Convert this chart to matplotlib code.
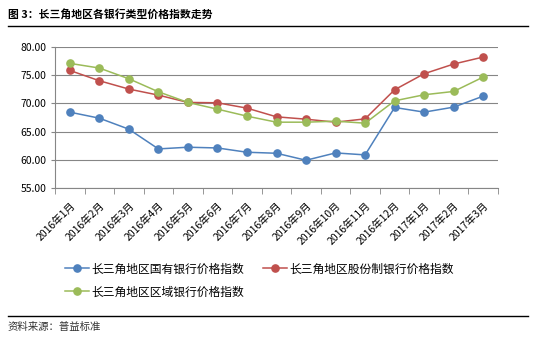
import numpy as np
import matplotlib
matplotlib.use("Agg")
import matplotlib.pyplot as plt
from matplotlib.lines import Line2D

plt.rcParams['font.family'] = ['Noto Sans CJK SC', 'DejaVu Sans']

months = ['2016年1月', '2016年2月', '2016年3月', '2016年4月', '2016年5月',
          '2016年6月', '2016年7月', '2016年8月', '2016年9月', '2016年10月',
          '2016年11月', '2016年12月', '2017年1月', '2017年2月', '2017年3月']

state_owned = [68.45, 67.38, 65.43, 61.93, 62.23, 62.10, 61.34, 61.16, 59.92,
               61.22, 60.87, 69.28, 68.45, 69.34, 71.29]
joint_stock = [75.85, 74.02, 72.54, 71.47, 70.17, 70.11, 69.16, 67.62, 67.20,
               66.67, 67.26, 72.42, 75.26, 76.98, 78.22]
regional = [77.10, 76.27, 74.37, 72.06, 70.17, 68.98, 67.74, 66.67, 66.67,
            66.85, 66.49, 70.46, 71.53, 72.12, 74.67]

names = ['长三角地区国有银行价格指数', '长三角地区股份制银行价格指数', '长三角地区区域银行价格指数']
colors = ['#4F81BD', '#C0504D', '#9BBB59']
yticks = [55, 60, 65, 70, 75, 80]

fig = plt.figure(figsize=(5.34, 3.42), dpi=100)
W, H = 534, 342
ax = fig.add_axes([55 / W, 1 - 188 / H, (498 - 55) / W, (188 - 47) / H])

x = np.arange(len(months))
series = [state_owned, joint_stock, regional]
for vals, c in zip(series, colors):
    ax.plot(x, vals, color=c, lw=1.1, marker='o', ms=5.2, zorder=3)

ax.set_xlim(-0.5, len(months) - 0.5)
ax.set_ylim(55, 80)
ax.set_yticks(yticks)
ax.set_yticklabels(['%.2f' % v for v in yticks], fontsize=7.5)
ax.grid(axis='y', color='#868686', lw=0.8)
ax.set_axisbelow(True)

ax.set_xticks(x)
ax.set_xticklabels(months, rotation=45, ha='right', rotation_mode='anchor', fontsize=7.5)
ax.set_xticks(np.arange(-0.5, len(months)), minor=True)
ax.tick_params(axis='x', which='major', length=0, pad=9)
ax.tick_params(axis='x', which='minor', length=4, color='#868686')
ax.tick_params(axis='y', length=3, color='#868686', pad=3)
for s in ['top', 'right']:
    ax.spines[s].set_visible(False)
for s in ['left', 'bottom']:
    ax.spines[s].set_color('#868686')
    ax.spines[s].set_linewidth(0.8)

# legend: two columns, blue/red on the first row, green below
handles = [Line2D([], [], color=c, lw=1.1, marker='o', ms=5.2) for c in colors]
order = [0, 2, 1]
fig.legend([handles[i] for i in order], [names[i] for i in order], ncol=2,
           loc='upper left', bbox_to_anchor=(59 / W, 1 - 256.6 / H), frameon=False,
           fontsize=8.5, handlelength=2.0, columnspacing=1.6, handletextpad=0.25,
           labelspacing=0.84, borderpad=0)

# title and footer
fig.text(8 / W, 1 - 15 / H, '图 3：长三角地区各银行类型价格指数走势', fontsize=7.8,
         fontweight='bold', va='center', ha='left')
fig.add_artist(Line2D([8 / W, 528 / W], [1 - 26 / H] * 2, color='black', lw=1))
fig.add_artist(Line2D([8 / W, 528 / W], [1 - 316 / H] * 2, color='black', lw=1))
fig.text(8 / W, 1 - 327 / H, '资料来源：普益标准', fontsize=7.5, color='#333333',
         va='center', ha='left')

fig.savefig('out.png', dpi=100)
